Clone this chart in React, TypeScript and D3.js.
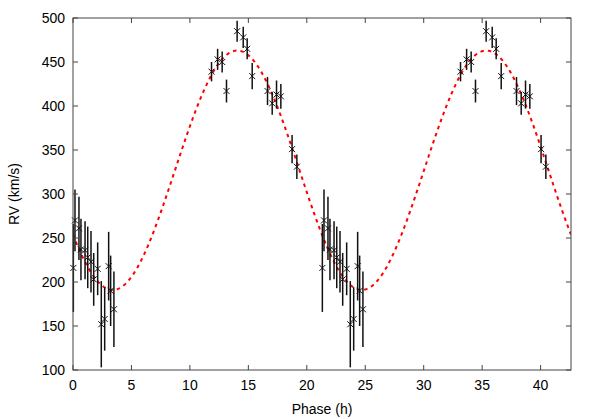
import React from 'react';
import * as d3 from 'd3';

// measured radial velocities, folded on the orbital period
const phases = [0.03, 0.17, 0.51, 0.68, 1.03, 1.26, 1.54, 1.77, 2.11, 2.42, 2.71, 3.05, 3.22, 3.5,
  11.85, 12.37, 12.76, 13.13, 14.04, 14.56, 14.9, 15.33, 16.64, 17.04, 17.41, 17.78, 18.74, 19.15];
const rvs = [216, 270, 261, 237, 236, 228, 223, 203, 215, 152, 158, 218, 190, 169,
  439, 453, 450, 417, 485, 478, 465, 434, 417, 403, 413, 411, 351, 331];
const errs = [50, 35, 36, 35, 33, 35, 35, 30, 30, 49, 36, 39, 40, 43,
  11, 12, 12, 13, 12, 12, 12, 15, 16, 13, 16, 14, 16, 14];

// sine fit: systemic velocity, semi-amplitude, period, phase of minimum
const gamma = 327;
const K = 136;
const period = 21.3;
const tMin = 3.4;

const xTicks = [0, 5, 10, 15, 20, 25, 30, 35, 40];
const yTicks = [100, 150, 200, 250, 300, 350, 400, 450, 500];

const W = 598;
const H = 419;
const margin = { top: 18, right: 27, bottom: 49, left: 73 };

export default function App() {
  const x = d3.scaleLinear().domain([0, 42.6]).range([margin.left, W - margin.right]);
  const y = d3.scaleLinear().domain([100, 500]).range([H - margin.bottom, margin.top]);

  const curvePts = d3.range(0, 42.6 + 0.05, 0.05).map(t => [
    t,
    gamma - K * Math.cos((2 * Math.PI * (t - tMin)) / period),
  ]);
  const line = d3.line<number[]>().x(d => x(d[0])).y(d => y(d[1]));

  const pts: { t: number; v: number; e: number }[] = [];
  [0, period].forEach(off => {
    phases.forEach((p, i) => pts.push({ t: p + off, v: rvs[i], e: errs[i] }));
  });

  const x0 = x.range()[0];
  const x1 = x.range()[1];
  const y0 = y.range()[0];
  const y1 = y.range()[1];
  const font = 'Liberation Sans, Arial, sans-serif';
  const tick = 5;

  return (
    <svg width={W} height={H} style={{ position: 'absolute', left: 0, top: 0, background: '#fff' }}>
      <defs>
        <clipPath id="plot">
          <rect x={x0} y={y1} width={x1 - x0} height={y0 - y1} />
        </clipPath>
      </defs>
      <g clipPath="url(#plot)">
        <path d={line(curvePts) || ''} fill="none" stroke="#f00" strokeWidth={2} strokeDasharray="3.5,4" />
      </g>
      {pts.map((d, i) => {
        const cx = x(d.t);
        const cy = y(d.v);
        const s = 3;
        return (
          <g key={i} stroke="#111">
            <line x1={cx} x2={cx} y1={y(d.v + d.e)} y2={y(d.v - d.e)} strokeWidth={1.5} />
            <line x1={cx - s} x2={cx + s} y1={cy - s} y2={cy + s} strokeWidth={1} />
            <line x1={cx - s} x2={cx + s} y1={cy + s} y2={cy - s} strokeWidth={1} />
          </g>
        );
      })}
      <g stroke="#444" strokeWidth={1}>
        {xTicks.map(t => (
          <g key={'xt' + t}>
            <line x1={x(t)} x2={x(t)} y1={y0} y2={y0 - tick} />
            <line x1={x(t)} x2={x(t)} y1={y1} y2={y1 + tick} />
          </g>
        ))}
        {yTicks.map(t => (
          <g key={'yt' + t}>
            <line x1={x0} x2={x0 + tick} y1={y(t)} y2={y(t)} />
            <line x1={x1} x2={x1 - tick} y1={y(t)} y2={y(t)} />
          </g>
        ))}
        <rect x={x0} y={y1} width={x1 - x0} height={y0 - y1} fill="none" />
      </g>
      <g fontFamily={font} fontSize={14} fill="#000">
        {xTicks.map(t => (
          <text key={'xl' + t} x={x(t)} y={y0 + 20} textAnchor="middle">{t}</text>
        ))}
        {yTicks.map(t => (
          <text key={'yl' + t} x={x0 - 8} y={y(t) + 5} textAnchor="end">{t}</text>
        ))}
        <text x={(x0 + x1) / 2} y={H - 5} textAnchor="middle">Phase (h)</text>
        <text transform={`translate(19,${(y0 + y1) / 2}) rotate(-90)`} textAnchor="middle">RV (km/s)</text>
      </g>
    </svg>
  );
}
